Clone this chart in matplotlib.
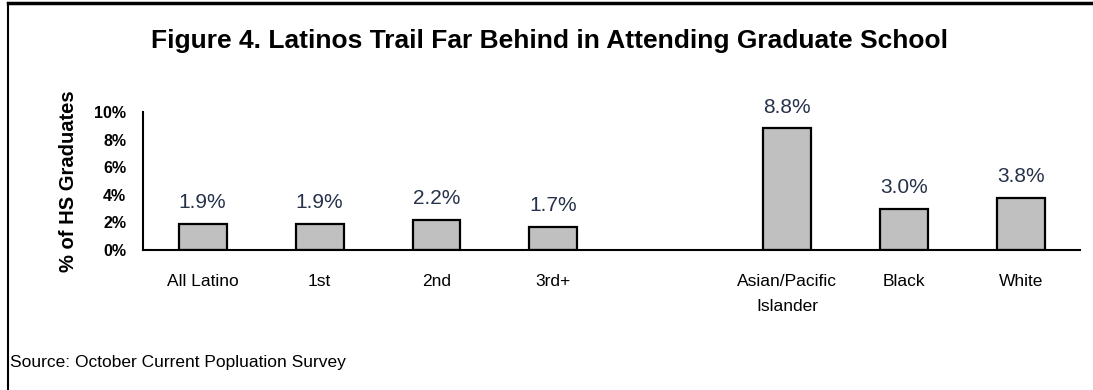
import matplotlib.pyplot as plt
from matplotlib.lines import Line2D

categories = ['All Latino', '1st', '2nd', '3rd+', 'Asian/Pacific\nIslander', 'Black', 'White']
values = [1.9, 1.9, 2.2, 1.7, 8.8, 3.0, 3.8]
labels = ['1.9%', '1.9%', '2.2%', '1.7%', '8.8%', '3.0%', '3.8%']
positions = [0, 1, 2, 3, 5, 6, 7]  # gap between Latino groups and others
yticks = [0, 2, 4, 6, 8, 10]

plt.rcParams['font.family'] = ['Liberation Sans', 'DejaVu Sans']

fig = plt.figure(figsize=(10.93, 3.90), dpi=100)
ax = fig.add_axes([0.1308, 0.359, 0.857, 0.354])

ax.bar(positions, values, width=0.41, color='#c0c0c0', edgecolor='black', linewidth=1.6)
for x, v, t in zip(positions, values, labels):
    ax.text(x, v + 0.85, t, ha='center', va='bottom', fontsize=15, color='#26324a')

ax.set_xlim(-0.51, 7.5)
ax.set_ylim(0, 10)
ax.set_yticks(yticks)
ax.set_yticklabels(['{}%'.format(t) for t in yticks], fontsize=11.5, fontweight='bold')
ax.set_xticks(positions)
ax.set_xticklabels(categories, fontsize=12.5, va='top', linespacing=1.9)
ax.tick_params(axis='both', length=0)
ax.tick_params(axis='y', pad=12)
ax.tick_params(axis='x', pad=17)
ax.spines['top'].set_visible(False)
ax.spines['right'].set_visible(False)
ax.spines['left'].set_linewidth(1.5)
ax.spines['bottom'].set_linewidth(1.5)
ax.set_ylabel('% of HS Graduates', fontsize=14.5, fontweight='bold', labelpad=12)

fig.text(0.503, 0.895, 'Figure 4. Latinos Trail Far Behind in Attending Graduate School',
         ha='center', va='center', fontsize=19, fontweight='bold')
fig.text(0.009, 0.07, 'Source: October Current Popluation Survey', ha='left', va='center', fontsize=12.5)

# frame lines at top and left edge
fig.add_artist(Line2D([0.0075, 1.0], [0.992, 0.992], transform=fig.transFigure, color='black', linewidth=2.5))
fig.add_artist(Line2D([0.0075, 0.0075], [0.0, 0.992], transform=fig.transFigure, color='black', linewidth=1.5))

fig.savefig('out.png', dpi=100)
